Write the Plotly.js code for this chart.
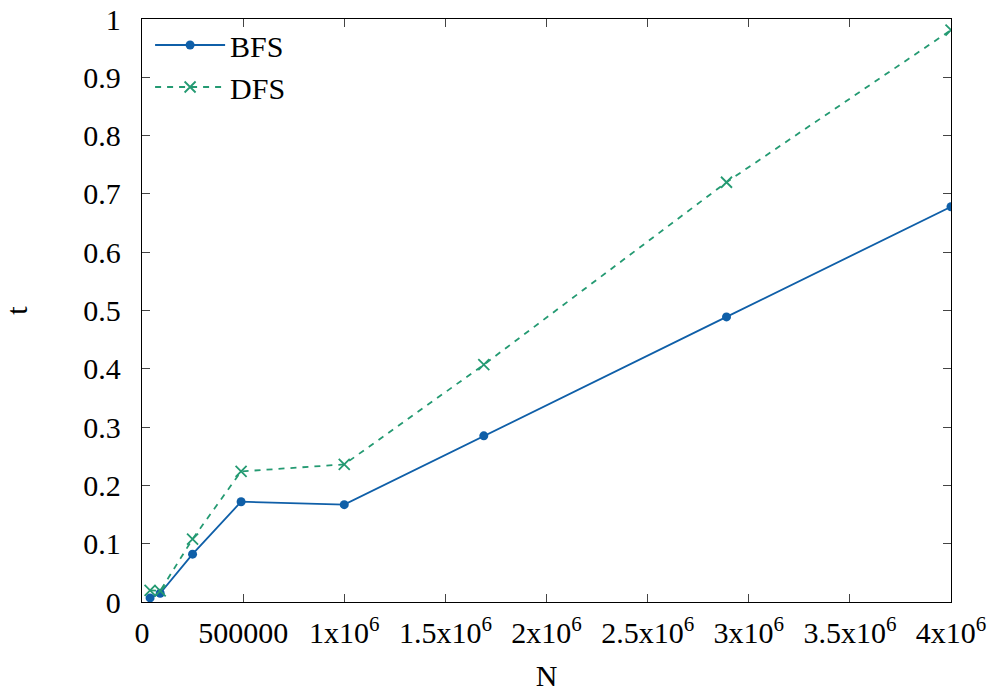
<!DOCTYPE html>
<html>
<head>
<meta charset="utf-8">
<script src="https://cdn.plot.ly/plotly-3.0.1.min.js"></script>
<style>html,body{margin:0;padding:0;background:#fff;}#chart{width:997px;height:694px;}</style>
</head>
<body>
<div id="chart"></div>
<script>
const N = [40000, 90000, 250000, 490000, 1000000, 1690000, 2890000, 4000000];
const bfs = [0.007, 0.015, 0.082, 0.172, 0.167, 0.285, 0.489, 0.678];
const dfs = [0.020, 0.019, 0.108, 0.224, 0.236, 0.407, 0.720, 0.981];
const xTickVals = [0, 500000, 1000000, 1500000, 2000000, 2500000, 3000000, 3500000, 4000000];
const xTickText = ['0', '500000', '1x10<sup>6</sup>', '1.5x10<sup>6</sup>', '2x10<sup>6</sup>', '2.5x10<sup>6</sup>', '3x10<sup>6</sup>', '3.5x10<sup>6</sup>', '4x10<sup>6</sup>'];
const yTickVals = [0, 0.1, 0.2, 0.3, 0.4, 0.5, 0.6, 0.7, 0.8, 0.9, 1];
const yTickText = ['0', '0.1', '0.2', '0.3', '0.4', '0.5', '0.6', '0.7', '0.8', '0.9', '1'];

const font = {family: 'Liberation Serif, Times New Roman, serif', size: 30, color: '#000'};

const traces = [
  {x: N, y: bfs, name: 'BFS', type: 'scatter', mode: 'lines+markers',
   line: {color: '#0f5fa8', width: 1.8}, marker: {symbol: 'circle', size: 9, color: '#0f5fa8'}},
  {x: N, y: dfs, name: 'DFS', type: 'scatter', mode: 'lines+markers',
   line: {color: '#249a72', width: 1.8, dash: '6px,6px'}, marker: {symbol: 'x-thin', size: 11, line: {color: '#249a72', width: 1.8}, color: '#249a72'}}
];

const layout = {
  width: 997, height: 694,
  margin: {l: 142, r: 46, t: 19, b: 92},
  paper_bgcolor: '#fff', plot_bgcolor: '#fff',
  font: font,
  showlegend: true,
  legend: {x: 0.01, y: 1.0, xanchor: 'left', yanchor: 'top', bgcolor: 'rgba(0,0,0,0)', font: font, itemwidth: 70, tracegroupgap: 0},
  xaxis: {range: [0, 4000000], tickvals: xTickVals, ticktext: xTickText, ticks: 'inside', ticklen: 8,
          showline: true, linecolor: '#000', linewidth: 1.2, mirror: 'ticks', showgrid: false, zeroline: false,
          tickfont: font, ticklabelstandoff: 4, title: {text: 'N', font: font, standoff: 16}},
  yaxis: {range: [0, 1], tickvals: yTickVals, ticktext: yTickText, ticks: 'inside', ticklen: 8,
          showline: true, linecolor: '#000', linewidth: 1.2, mirror: 'ticks', showgrid: false, zeroline: false,
          tickfont: font, ticklabelstandoff: 14, title: {text: 't', font: font, standoff: 64}}
};

Plotly.newPlot('chart', traces, layout, {displayModeBar: false, staticPlot: true});
</script>
</body>
</html>
